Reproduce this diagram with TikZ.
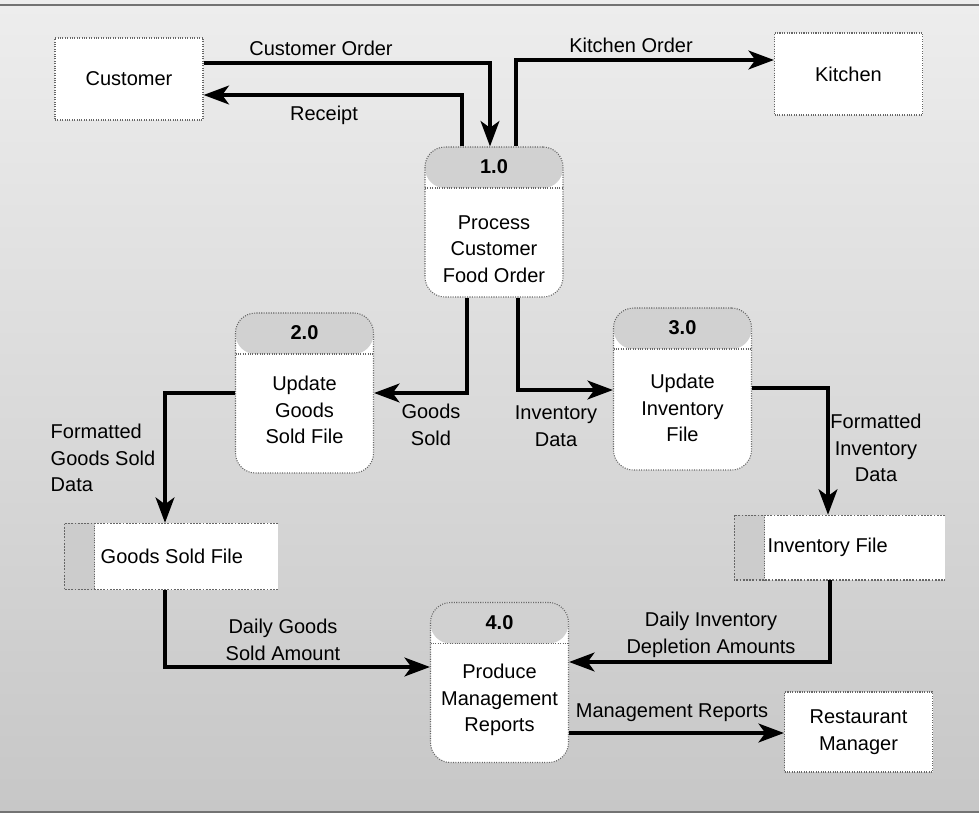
\documentclass[tikz,border=0pt]{standalone}
\usepackage{fontspec}
\setmainfont{Liberation Sans}
\usetikzlibrary{arrows.meta, calc, positioning}

\begin{document}
\begin{tikzpicture}[x=0.75pt, y=-0.75pt,
    every node/.style={font=\fontsize{15}{20}\selectfont},
    thin line/.style={draw=black!60, densely dotted, line width=0.8pt},
    flow/.style={line width=3pt, -{Stealth[length=19pt, width=14pt, inset=5pt]}},
    ext/.style={thin line, fill=white, minimum width=111pt, minimum height=61.5pt, align=center},
    bubble/.style={thin line, fill=white, rounded corners=15pt, minimum width=103.5pt, minimum height=120pt,
        path picture={
            \fill[black!18] (path picture bounding box.north west) rectangle ([yshift=-30.75pt]path picture bounding box.north east);
            \draw[thin line] ([yshift=-30.75pt]path picture bounding box.north west) -- ([yshift=-30.75pt]path picture bounding box.north east);
        }},
    store/.style={fill=white, minimum height=50pt, inner sep=0pt,
        path picture={
            \fill[black!20] (path picture bounding box.north west) rectangle ([xshift=23pt]path picture bounding box.south west);
            \draw[thin line, line width=1.4pt] (path picture bounding box.north east) -- (path picture bounding box.north west)
                -- (path picture bounding box.south west) -- (path picture bounding box.south east);
            \draw[thin line] ([xshift=23pt]path picture bounding box.north west) -- ([xshift=23pt]path picture bounding box.south west);
        }},
    num/.style={font=\fontsize{15}{20}\selectfont\bfseries},
    body/.style={align=center},
    lbl/.style={align=center}]

    % scanned page background
    \useasboundingbox (0,0) rectangle (979,819);
    \shade[top color=black!7, bottom color=black!22] (0,0) rectangle (979,812);
    \draw[black!55, line width=0.8pt] (0,5) -- (979,5);
    \draw[black!55, line width=0.8pt] (0,812) -- (979,812);

    % external entities
    \node[ext] (cust) at (129,79) {Customer};
    \node[ext] (kit) at (848.5,74) {Kitchen};
    \node[ext, minimum height=60pt] (mgr) at (858.5,732) {Restaurant\\Manager};

    % processes
    \node[bubble, minimum height=112.5pt] (p1) at (494,222) {};
    \node[num] (p1n) at ([yshift=-15.4pt]p1.north) {1.0};
    \node[body] (p1t) at (494,249) {Process\\Customer\\Food Order};

    \node[bubble] (p2) at (304.5,393) {};
    \node[num] (p2n) at ([yshift=-15.4pt]p2.north) {2.0};
    \node[body] (p2t) at (304.5,410) {Update\\Goods\\Sold File};

    \node[bubble, minimum height=121.5pt] (p3) at (682.5,389) {};
    \node[num] (p3n) at ([yshift=-15.4pt]p3.north) {3.0};
    \node[body] (p3t) at (682.5,408) {Update\\Inventory\\File};

    \node[bubble] (p4) at (499.5,682.5) {};
    \node[num] (p4n) at ([yshift=-15.4pt]p4.north) {4.0};
    \node[body] (p4t) at (499.5,700) {Produce\\Management\\Reports};

    % data stores
    \node[store, minimum width=160.5pt] (gsf) at (171,556.5) {};
    \node[anchor=west] (gsft) at (96,556.5) {Goods Sold File};
    \node[store, minimum width=158.25pt, minimum height=48.75pt] (inv) at (839.5,547.5) {};
    \node[anchor=west] (invt) at (763,547.5) {Inventory File};

    % flow labels
    \node[lbl] (lco) at (321,48) {Customer Order};
    \node[lbl] (lrc) at (324,115) {Receipt};
    \node[lbl] (lko) at (631,45) {Kitchen Order};
    \node[lbl] (lgs) at (431,425) {Goods\\Sold};
    \node[lbl] (lid) at (556,426) {Inventory\\Data};
    \node[lbl, align=left, anchor=west] (lfg) at (46,458) {Formatted\\Goods Sold\\Data};
    \node[lbl] (lfi) at (876,448) {Formatted\\Inventory\\Data};
    \node[lbl] (ldg) at (283,640) {Daily Goods\\Sold Amount};
    \node[lbl] (ldi) at (711,635) {Daily Inventory\\Depletion Amounts};
    \node[lbl] (lmr) at (672,713) {Management Reports};

    % data flows
    \draw[flow] (cust.east |- 0,63) -| (p1.north -| 490,0);
    \draw[flow] (p1.north -| 462,0) |- (cust.east |- 0,95);
    \draw[flow] (p1.north -| 516,0) |- (kit.west |- 0,60);
    \draw[flow] (p1.south -| 467,0) |- (p2.east |- 0,393);
    \draw[flow] (p1.south -| 518,0) |- (p3.west |- 0,390);
    \draw[flow] (p2.west |- 0,393) -| (gsf.north -| 165,0);
    \draw[flow] (p3.east |- 0,388) -| (inv.north -| 828,0);
    \draw[flow] (gsf.south -| 165,0) |- (p4.west |- 0,667);
    \draw[flow] (inv.south -| 830,0) |- (p4.east |- 0,662);
    \draw[flow] (p4.east |- 0,733) -- (mgr.west |- 0,733);
\end{tikzpicture}
\end{document}
